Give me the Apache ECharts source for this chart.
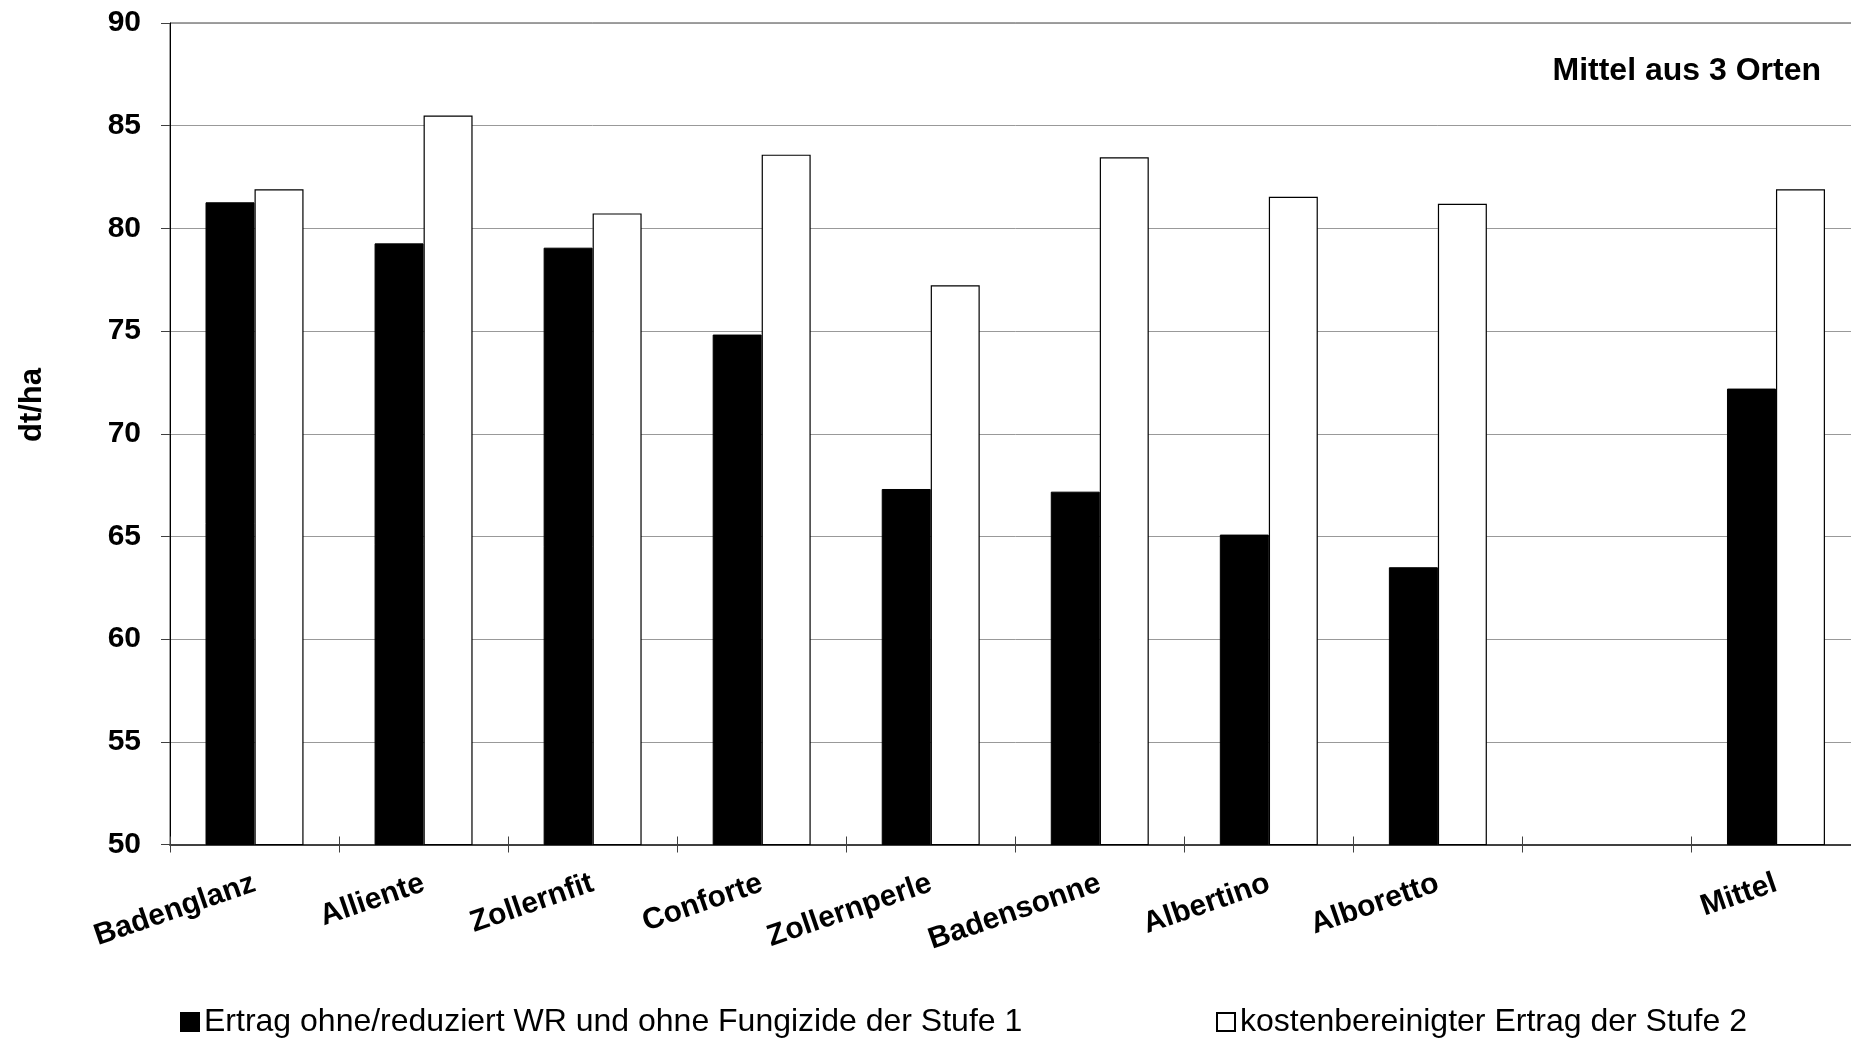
<!DOCTYPE html>
<html>
<head>
<meta charset="utf-8">
<script src="https://cdn.jsdelivr.net/npm/echarts@6/dist/echarts.min.js"></script>
<style>
html,body{margin:0;padding:0;background:#fff;overflow:hidden;width:1851px;height:1039px;}
#chart{width:1872px;height:1039px;}
</style>
</head>
<body>
<div id="chart"></div>
<script>
const categories = ['Badenglanz','Alliente','Zollernfit','Conforte','Zollernperle','Badensonne','Albertino','Alboretto','','Mittel'];
const stufe1 = [81.27, 79.27, 79.06, 74.83, 67.31, 67.18, 65.09, 63.5, null, 72.2];
const stufe2 = [81.9, 85.49, 80.73, 83.59, 77.23, 83.46, 81.54, 81.2, null, 81.9];
const seriesNames = ['Ertrag ohne/reduziert WR und ohne Fungizide der Stufe 1', 'kostenbereinigter Ertrag der Stufe 2'];
const yTicks = {min: 50, max: 90, interval: 5};
const yTitle = 'dt/ha';
const noteText = 'Mittel aus 3 Orten';

const FONT = '"Liberation Sans", Arial, Helvetica, sans-serif';
const chart = echarts.init(document.getElementById('chart'), null, {renderer: 'canvas'});
chart.setOption({
  animation: false,
  backgroundColor: '#ffffff',
  textStyle: {fontFamily: FONT},
  grid: {left: 170, top: 23, right: 11.5, bottom: 194.5, show: true, borderColor: '#404040', borderWidth: 1, backgroundColor: 'transparent', containLabel: false},
  legend: [
    {data: [seriesNames[0]], left: 180, top: 1006, padding: 0, icon: 'rect', itemWidth: 18, itemHeight: 18, itemGap: 0,
     textStyle: {fontFamily: FONT, fontSize: 32, color: '#000'}},
    {data: [seriesNames[1]], left: 1216, top: 1006, padding: 0, icon: 'rect', itemWidth: 18, itemHeight: 18, itemGap: 0,
     textStyle: {fontFamily: FONT, fontSize: 32, color: '#000'}}
  ],
  graphic: [
    {type: 'text', x: 32, y: 405, rotation: Math.PI / 2,
     style: {text: yTitle, font: 'bold 31px ' + FONT, fill: '#000', align: 'center', verticalAlign: 'middle'}},
    {type: 'text', x: 1821, y: 71.5,
     style: {text: noteText, font: 'bold 32px ' + FONT, fill: '#000', align: 'right', verticalAlign: 'middle'}}
  ],
  xAxis: [
    {type: 'category', data: categories, boundaryGap: true, position: 'bottom',
     axisLine: {show: true, lineStyle: {color: '#404040', width: 2}},
     axisTick: {show: true, inside: false, length: 8, lineStyle: {color: '#404040', width: 1}},
     axisLabel: {rotate: 19, margin: 38, fontFamily: FONT, fontSize: 30, fontWeight: 'bold', color: '#000', interval: 0}},
    {type: 'category', data: categories, boundaryGap: true, position: 'bottom',
     axisLine: {show: false},
     axisTick: {show: true, inside: true, length: 8, lineStyle: {color: '#404040', width: 1}},
     axisLabel: {show: false}}
  ],
  yAxis: {
    type: 'value', min: yTicks.min, max: yTicks.max, interval: yTicks.interval,
    axisLine: {show: true, lineStyle: {color: '#000', width: 1}},
    axisTick: {show: true, length: 9, lineStyle: {color: '#404040'}},
    axisLabel: {margin: 29, fontFamily: FONT, fontSize: 30, fontWeight: 'bold', color: '#000'},
    splitLine: {show: true, lineStyle: {color: '#999999', width: 1}}
  },
  series: [
    {name: seriesNames[0], type: 'bar', data: stufe1, barWidth: 49, barGap: '0%', xAxisIndex: 0,
     itemStyle: {color: '#000000', borderColor: '#000000', borderWidth: 1}},
    {name: seriesNames[1], type: 'bar', data: stufe2, barWidth: 49, barGap: '0%', xAxisIndex: 0,
     itemStyle: {color: '#ffffff', borderColor: '#000000', borderWidth: 1.2}}
  ]
});
</script>
</body>
</html>
